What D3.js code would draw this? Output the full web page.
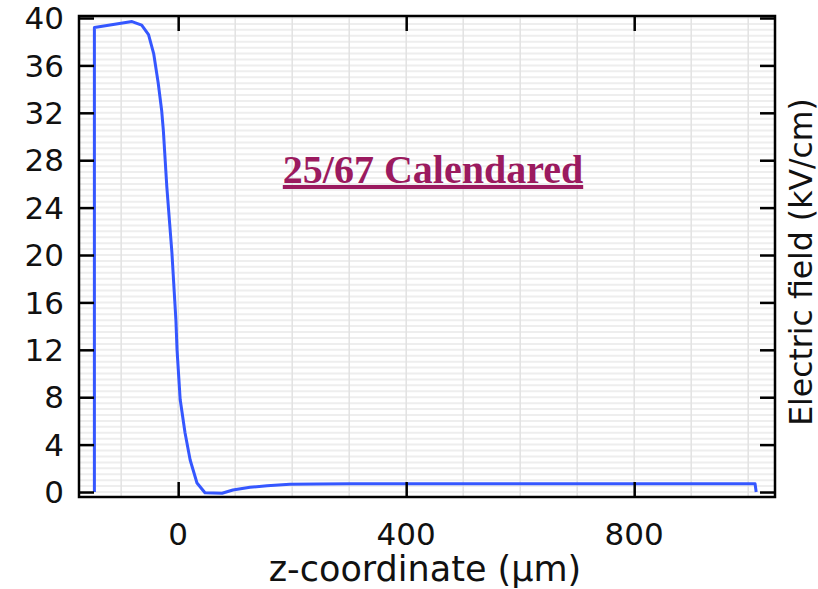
<!DOCTYPE html>
<html>
<head>
<meta charset="utf-8">
<script src="https://cdn.jsdelivr.net/npm/d3@7"></script>
<style>
  body { margin: 0; background: #fff; }
  svg { display: block; }
  text { font-family: "DejaVu Sans", sans-serif; }
</style>
</head>
<body>
<div id="chart"></div>
<script>
// z-coordinate (um) and electric field (kV/cm)
const zValues = [-147, -147, -81, -64, -52, -43, -35, -29, -26, -20, -11, -4, -2, 3.5, 12, 21, 33, 47, 77, 96, 126, 156, 196, 243, 302, 389, 600, 800, 1012, 1014];
const fieldValues = [0, 39.2, 39.7, 39.4, 38.6, 37.0, 34.5, 32.2, 30.5, 25.8, 20.2, 14.5, 12.0, 7.8, 5.0, 2.7, 0.76, -0.06, -0.1, 0.17, 0.40, 0.53, 0.65, 0.68, 0.70, 0.70, 0.70, 0.70, 0.70, 0];
const xTicks = [0, 400, 800];
const yTicks = [0, 4, 8, 12, 16, 20, 24, 28, 32, 36, 40];

const width = 818, height = 589;
const plotLeft = 79, plotRight = 775, plotTop = 16, plotBottom = 497;

const svg = d3.select("#chart").append("svg")
    .attr("width", width)
    .attr("height", height);

const x = d3.scaleLinear().domain([-174, 1047]).range([plotLeft, plotRight]);
const y = d3.scaleLinear().domain([-0.42, 40.17]).range([plotBottom, plotTop]);

// minor grid
svg.append("g")
    .selectAll("line")
    .data(d3.range(0, 40.5, 0.5))
    .enter()
    .append("line")
    .attr("x1", plotLeft).attr("x2", plotRight)
    .attr("y1", d => y(d)).attr("y2", d => y(d))
    .attr("stroke", "#eeeeee")
    .attr("stroke-width", 2);

svg.append("g")
    .selectAll("line")
    .data(d3.range(-100, 1001, 100))
    .enter()
    .append("line")
    .attr("x1", d => x(d)).attr("x2", d => x(d))
    .attr("y1", plotTop).attr("y2", plotBottom)
    .attr("stroke", "#e2e2e2")
    .attr("stroke-width", 1.5);

// the curve
const line = d3.line()
    .x((d, i) => x(zValues[i]))
    .y(d => y(d));

svg.append("path")
    .datum(fieldValues)
    .attr("d", line)
    .attr("fill", "none")
    .attr("stroke", "#3557ff")
    .attr("stroke-width", 3)
    .attr("stroke-linejoin", "round");

// axes, ticks pointing inward
const tickLen = 15;
const axisStyle = g => {
    g.select(".domain").remove();
    g.selectAll("line").attr("stroke", "#000").attr("stroke-width", 2.5);
};

svg.append("g")
    .attr("transform", `translate(${plotLeft},0)`)
    .call(d3.axisRight(y).tickValues(yTicks).tickSize(tickLen).tickFormat(""))
    .call(axisStyle);

svg.append("g")
    .attr("transform", `translate(${plotRight},0)`)
    .call(d3.axisLeft(y).tickValues(yTicks).tickSize(tickLen).tickFormat(""))
    .call(axisStyle);

svg.append("g")
    .attr("transform", `translate(0,${plotBottom})`)
    .call(d3.axisTop(x).tickValues(xTicks).tickSize(tickLen).tickFormat(""))
    .call(axisStyle);

svg.append("g")
    .attr("transform", `translate(0,${plotTop})`)
    .call(d3.axisBottom(x).tickValues(xTicks).tickSize(tickLen).tickFormat(""))
    .call(axisStyle);

svg.append("rect")
    .attr("x", plotLeft).attr("y", plotTop)
    .attr("width", plotRight - plotLeft).attr("height", plotBottom - plotTop)
    .attr("fill", "none")
    .attr("stroke", "#000")
    .attr("stroke-width", 2.5);

// tick labels
svg.append("g")
    .selectAll("text")
    .data(yTicks)
    .enter()
    .append("text")
    .attr("x", 64)
    .attr("y", d => y(d))
    .attr("dy", "0.36em")
    .attr("text-anchor", "end")
    .style("font-size", "31px")
    .attr("fill", "#111")
    .text(d => d);

svg.append("g")
    .selectAll("text")
    .data(xTicks)
    .enter()
    .append("text")
    .attr("x", d => x(d))
    .attr("y", 545)
    .attr("text-anchor", "middle")
    .style("font-size", "31px")
    .attr("fill", "#111")
    .text(d => d);

// axis titles
svg.append("text")
    .attr("x", 425)
    .attr("y", 581)
    .attr("text-anchor", "middle")
    .style("font-size", "35px")
    .attr("fill", "#111")
    .text("z-coordinate (µm)");

svg.append("text")
    .attr("transform", "translate(812,262) rotate(-90)")
    .attr("text-anchor", "middle")
    .style("font-size", "31.5px")
    .attr("fill", "#111")
    .text("Electric field (kV/cm)");

// annotation
svg.append("text")
    .attr("x", 433)
    .attr("y", 183)
    .attr("text-anchor", "middle")
    .style("font-family", "'Liberation Serif', 'Times New Roman', serif")
    .style("font-weight", "bold")
    .style("font-size", "40px")
    .style("text-decoration", "underline")
    .attr("fill", "#9b1a5f")
    .text("25/67 Calendared");
</script>
</body>
</html>
